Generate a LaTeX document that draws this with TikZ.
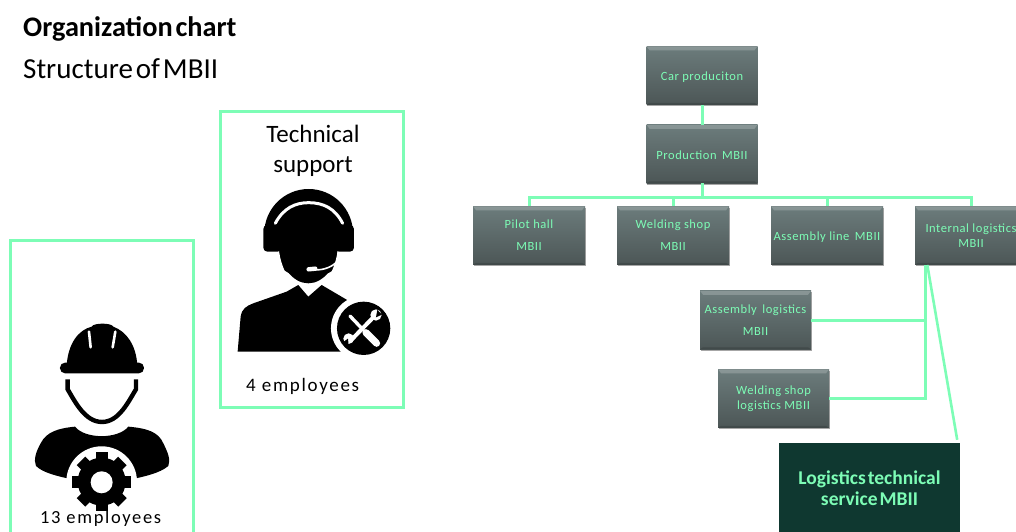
\documentclass[tikz,border=0pt]{standalone}
\usepackage{fontspec}
\setmainfont{Carlito}
\usetikzlibrary{shadows,calc}
\definecolor{mint}{HTML}{7DFDB6}
\definecolor{boxtop}{HTML}{6C7C7C}
\definecolor{boxbot}{HTML}{4C5656}
\definecolor{darkbox}{HTML}{0F3830}
\newfontfamily\spaced[LetterSpace=4.5]{Carlito}
\newfontfamily\tight[WordSpace=0.45]{Carlito}
\newfontfamily\wide[LetterSpace=9]{Carlito}
\tikzset{
  orgbox/.style={minimum height=58.5pt,inner sep=0pt,align=center,
    top color=boxtop,bottom color=boxbot,text=mint,
    font=\spaced\fontsize{12.5}{15}\selectfont,
    drop shadow={shadow xshift=0.6pt,shadow yshift=-1.4pt,opacity=.35,fill=black},
    path picture={
      \fill[white,opacity=.2] (path picture bounding box.north west) -- (path picture bounding box.north east)
        -- ([shift={(-3pt,-4pt)}]path picture bounding box.north east) -- ([shift={(3pt,-4pt)}]path picture bounding box.north west) -- cycle;
      \fill[black,opacity=.15] (path picture bounding box.south west) -- (path picture bounding box.south east)
        -- ([shift={(-3pt,2pt)}]path picture bounding box.south east) -- ([shift={(3pt,2pt)}]path picture bounding box.south west) -- cycle;
    }},
  wideorg/.style={orgbox,minimum width=111pt},
  oneline/.style={execute at begin node={\rule{0pt}{11.5pt}}},
  twolines/.style={execute at begin node={\mbox{}\\[-11pt]}},
  conn/.style={draw=mint,line width=3pt},
  frame/.style={draw=mint,line width=3pt,fill=white},
  plain/.style={inner sep=0pt,text=black},
}
\begin{document}
\begin{tikzpicture}[x=1pt,y=-1pt]
\useasboundingbox (0,0) rectangle (1016,531);
\fill[white] (0,0) rectangle (1016,531);

% titles
\node[plain,anchor=base west,font=\tight\bfseries\fontsize{28.3}{30}\selectfont] (title) at (23,36) {Organization chart};
\node[plain,anchor=base west,font=\tight\fontsize{29}{30}\selectfont] (subtitle) at (23,78) {Structure of MBII};

% frames
\draw[frame] (10.5,533) -- (10.5,240) -- (193.5,240) -- (193.5,533);
\draw[frame] (220,111) rectangle (403,407);

% worker icon (coordinates of a 3x grid)
\begin{scope}[shift={(0,100)},x=0.3333pt,y=-0.3333pt]
  \fill[black,rounded corners=5pt] (180,788) rectangle (432,820);
  \fill[black] (200,795) .. controls (205,730) and (235,690) .. (275,680) .. controls (280,668) and (335,668) .. (340,680)
     .. controls (380,695) and (408,735) .. (412,795) -- cycle;
  \draw[white,line width=2.6pt,line cap=round] (267,695) -- (272,742);
  \draw[white,line width=2.6pt,line cap=round] (346,695) -- (338,742);
  \draw[black,line width=4.4pt] (203,838) -- (203,868) .. controls (225,905) and (255,966) .. (306,966) .. controls (357,966) and (385,905) .. (408,868) -- (408,838);
  \fill[black] (225,980) .. controls (255,1018) and (355,1018) .. (385,980)
     .. controls (440,985) and (475,995) .. (490,1030) .. controls (505,1060) and (512,1080) .. (505,1098)
     .. controls (480,1120) and (430,1130) .. (395,1138) -- (215,1138)
     .. controls (180,1130) and (130,1120) .. (108,1098) .. controls (100,1080) and (108,1055) .. (122,1030)
     .. controls (140,995) and (175,985) .. (225,980) -- cycle;
  \fill[white] (305,1145) circle[radius=106];
  \fill[black] (305,1145) circle[radius=72];
  \foreach \a in {0,45,...,315}
    \fill[black,rotate around={\a:(305,1145)}] (287,1057) rectangle (323,1100);
  \fill[white] (305,1147) circle[radius=33];
\end{scope}

% support icon
\begin{scope}[shift={(0,100)},x=0.3333pt,y=-0.3333pt]
  \fill[black] (926,400) circle[radius=133];
  \fill[white] (770,405) rectangle (790,470);
  \fill[white] (1062,405) rectangle (1085,470);
  \fill[white] (780,452) -- (838,452) .. controls (840,500) and (880,580) .. (925,580) -- (780,580) -- cycle;
  \fill[white] (1072,452) -- (1012,452) .. controls (1010,500) and (970,580) .. (925,580) -- (1072,580) -- cycle;
  \fill[black] (835,420) .. controls (835,500) and (880,550) .. (925,550) .. controls (970,550) and (1015,500) .. (1015,420) -- cycle;
  \fill[black,rounded corners=4pt] (790,375) rectangle (845,455);
  \fill[black,rounded corners=4pt] (1005,375) rectangle (1062,455);
  \draw[white,line width=3pt,line cap=round] (826,370) .. controls (850,325) and (885,308) .. (926,308) .. controls (970,308) and (1005,325) .. (1028,370);
  \draw[white,line width=1.6pt] (1008,488) .. controls (990,505) and (965,510) .. (945,510);
  \draw[white,line width=4.4pt,line cap=round] (926,508) -- (946,506);
  \fill[black] (713,755) -- (722,650) .. controls (726,625) and (740,618) .. (760,610) -- (860,575) -- (895,555) -- (925,590) -- (965,555)
     -- (1050,605) -- (1050,755) -- cycle;
  \fill[white] (1091,685) circle[radius=98];
  \fill[black] (1091,685) circle[radius=80];
  \fill[white] (980,766) rectangle (1180,790);
  \draw[white,line width=3.4pt,line cap=round] (1050,648) -- (1090,690);
  \draw[white,line width=7pt,line cap=round] (1098,698) -- (1130,730);
  \draw[white,line width=4pt] (1052,722) -- (1120,652);
  \fill[white] (1128,645) circle[radius=17];
  \fill[white] (1046,716) circle[radius=16];
  \fill[black] (1132,630) -- (1146,644) -- (1128,652) -- cycle;
  \fill[black] (1030,726) -- (1046,736) -- (1044,716) -- cycle;
\end{scope}

% frame texts
\node[plain,align=center,font=\fontsize{25}{30}\selectfont] (tech) at (313,151) {Technical\\support};
\node[plain,anchor=base west,font=\wide\fontsize{19}{20}\selectfont] (four) at (246,391) {4 employees};
\node[plain,anchor=base west,font=\wide\fontsize{18.5}{20}\selectfont] (thirteen) at (40,523) {13 employees};

% org boxes
\node[wideorg,oneline] (car) at (702,75.5) {Car produciton};
\node[wideorg,oneline] (prod) at (702,154) {Production\, MBII};
\node[wideorg,minimum width=112pt,twolines] (pilot) at (529,235.5) {Pilot hall\\[7pt]MBII};
\node[wideorg,minimum width=112pt,twolines] (weld) at (673,235.5) {Welding shop\\[7pt]MBII};
\node[wideorg,minimum width=112pt,oneline] (assy) at (827,235.5) {Assembly line\, MBII};
\node[wideorg,minimum width=112pt,twolines] (int) at (971,235.5) {Internal logistics\\MBII};
\node[wideorg,twolines] (alog) at (755.5,320) {Assembly\, logistics\\[7pt]MBII};
\node[wideorg,twolines] (wlog) at (773.5,398.5) {Welding shop\\logistics MBII};
\node[minimum width=181pt,minimum height=96pt,inner sep=0pt,fill=darkbox,text=mint,align=center,
  font=\tight\bfseries\fontsize{19.5}{21}\selectfont] (tech log) at (869.5,491) {\raisebox{-2.5pt}[0pt][0pt]{\parbox{170pt}{\centering Logistics technical\\service MBII}}};

% connectors
\coordinate (bus) at (702,197);
\coordinate (intfoot) at ($(int.south west)+(11,0)$);
\coordinate (intdiag) at ($(int.south west)+(12.5,0)$);
\coordinate (diagend) at ($(tech log.north east)+(-3,-3)$);
\draw[conn] (car.south) -- (prod.north);
\draw[conn] (prod.south) -- (bus);
\draw[conn] (pilot.north) |- (bus) -| (int.north);
\draw[conn] (weld.north) -- (weld.north |- bus);
\draw[conn] (assy.north) -- (assy.north |- bus);
\draw[conn] (alog.east) -- (alog.east -| intfoot);
\draw[conn] (wlog.east) -- (wlog.east -| intfoot) -- (intfoot);
\draw[draw=mint,line width=2.6pt] (intdiag) -- (diagend);
\end{tikzpicture}
\end{document}
